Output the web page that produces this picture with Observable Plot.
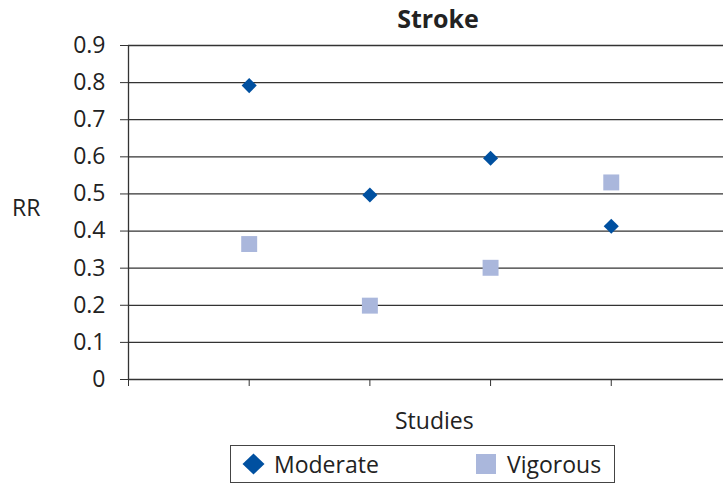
<!DOCTYPE html>
<html>
<head>
<meta charset="utf-8">
<script src="https://cdn.jsdelivr.net/npm/d3@7"></script>
<script src="https://cdn.jsdelivr.net/npm/@observablehq/plot@0.6"></script>
<style>
  html, body { margin: 0; padding: 0; background: #fff; }
  #wrap { position: relative; width: 723px; height: 484px; font-family: "Open Sans", sans-serif; color: #222; overflow: hidden; }
  .lbl { position: absolute; white-space: nowrap; line-height: 23px; font-size: 23px; }
  #title { position: absolute; left: 0; width: 876px; text-align: center; top: 6px; font-size: 25px; font-weight: bold; line-height: 25px; }
  #legend { position: absolute; left: 230px; top: 445px; width: 385px; height: 38px; box-sizing: border-box; border: 1px solid #444; background: #fff; }
  #legend .item { position: absolute; top: 0; height: 36px; display: flex; align-items: center; font-size: 23px; }
  #legend svg { display: block; }
</style>
</head>
<body>
<div id="wrap"></div>
<script>
const title = "Stroke";
const xLabel = "Studies";
const yLabel = "RR";
const studies = [1, 2, 3, 4];
const moderate = [0.792, 0.497, 0.596, 0.413];
const vigorous = [0.365, 0.199, 0.301, 0.531];
const yTicks = [0, 0.1, 0.2, 0.3, 0.4, 0.5, 0.6, 0.7, 0.8, 0.9];
const xTicks = [0, 1, 2, 3, 4];
const seriesNames = ["Moderate", "Vigorous"];
const colors = { Moderate: "#0050a0", Vigorous: "#aab7dc" };

const modData = studies.map((s, i) => ({ study: s, rr: moderate[i] }));
const vigData = studies.map((s, i) => ({ study: s, rr: vigorous[i] }));

const chart = Plot.plot({
  width: 723,
  height: 484,
  marginTop: 45,
  marginBottom: 105,
  marginLeft: 128,
  marginRight: 0,
  style: { fontFamily: "Open Sans, sans-serif", fontSize: "23px", color: "#222", background: "transparent" },
  x: { domain: [0, 4.93] },
  y: { domain: [0, 0.9] },
  marks: [
    Plot.ruleY(yTicks, { stroke: "#333", strokeWidth: 1.3 }),
    Plot.ruleX([0], { y1: 0, y2: 0.9, stroke: "#333", strokeWidth: 1.3 }),
    Plot.axisY({ ticks: yTicks, tickSize: 8, tickPadding: 15, tickFormat: d => d === 0 ? "0" : d.toFixed(1), label: null, stroke: "#333", fill: "#222" }),
    Plot.axisX({ ticks: xTicks, tickSize: 7, tickFormat: () => "", label: null, stroke: "#333" }),
    Plot.dot(vigData, { x: "study", y: "rr", symbol: "square", r: 9, fill: colors.Vigorous, stroke: "none" }),
    Plot.dot(modData, { x: "study", y: "rr", symbol: "diamond2", r: 6.8, fill: colors.Moderate, stroke: "none" })
  ]
});

const wrap = document.getElementById("wrap");
chart.style.position = "absolute";
chart.style.left = "0px";
chart.style.top = "0px";
wrap.appendChild(chart);

const t = document.createElement("div");
t.id = "title"; t.textContent = title;
wrap.appendChild(t);

const yl = document.createElement("div");
yl.className = "lbl"; yl.textContent = yLabel;
yl.style.left = "12px"; yl.style.top = "196px";
wrap.appendChild(yl);

const xl = document.createElement("div");
xl.className = "lbl"; xl.textContent = xLabel;
xl.style.left = "395px"; xl.style.top = "409px";
wrap.appendChild(xl);

const lg = document.createElement("div");
lg.id = "legend";
const positions = { Moderate: [10, 273], Vigorous: [243, 272] };
seriesNames.forEach(name => {
  const it = document.createElement("div");
  it.className = "item";
  it.style.left = positions[name][0] + "px";
  const svg = d3.create("svg").attr("width", 25).attr("height", 24).style("margin-right", (name === "Moderate" ? 8 : 8) + "px");
  if (name === "Moderate") {
    svg.append("path").attr("d", "M12.5,1.5L23.5,12L12.5,22.5L1.5,12Z").attr("fill", colors[name]);
  } else {
    svg.append("rect").attr("x", 2).attr("y", 2).attr("width", 20).attr("height", 20).attr("fill", colors[name]);
  }
  it.appendChild(svg.node());
  const sp = document.createElement("span");
  sp.textContent = name;
  it.appendChild(sp);
  lg.appendChild(it);
});
wrap.appendChild(lg);
</script>
</body>
</html>
